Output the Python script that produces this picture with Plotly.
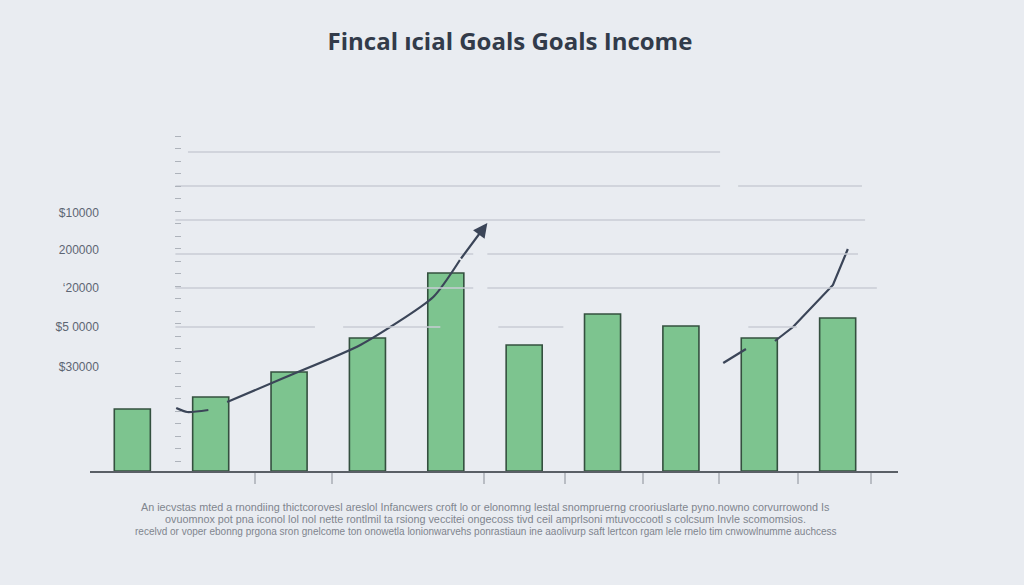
import plotly.graph_objects as go

# ---------------- data ----------------
bar_pos = [0, 1, 2, 3, 4, 5, 6, 7, 8, 9]
bar_values = [62000, 74000, 99000, 133000, 198000, 126000, 157000, 145000, 133000, 153000]

ytick_vals = [258000, 221000, 183000, 144000, 104000]
ytick_text = ["$10000", "200000", "\u201820000", "$5 0000", "$30000"]

xtick_vals = [1.57, 2.55, 4.49, 5.52, 6.52, 7.49, 8.50, 9.43]

# trend line 1 (two pieces) + arrow
trend1_x = [0.56, 0.70, 0.97, None, 1.21, 1.93, 2.91, 3.84, 4.18]
trend1_y = [63000, 59000, 61000, None, 69000, 93000, 126000, 174000, 211000]
arrow_tail = (4.18, 211000)
arrow_tip = (4.53, 248000)

# trend line 2 (two pieces)
trend2_x = [7.54, 7.83, None, 8.20, 8.43, 8.94, 9.13]
trend2_y = [108000, 122000, None, 130000, 144000, 186000, 222000]

# gridline segments: (level, x_start, x_end)
grid_levels = [319000, 285000, 285000, 251000, 217000, 217000, 183000, 183000,
               144000, 144000, 144000, 144000]
grid_x0 = [0.71, 0.55, 7.73, 0.55, 0.55, 4.53, 0.55, 4.53, 0.55, 2.69, 4.67, 7.86]
grid_x1 = [7.50, 7.50, 9.31, 9.35, 4.35, 9.26, 4.35, 9.50, 2.33, 3.93, 5.50, 8.48]

title_text = "Fincal \u0131cial Goals Goals Income"
caption_lines = [
    "An iecvstas mted a rnondiing thictcorovesl areslol Infancwers croft lo or elonomng lestal snompruerng crooriuslarte pyno.nowno corvurrowond Is",
    "ovuomnox pot pna iconol lol nol nette rontlmil ta rsiong veccitei ongecoss tivd ceil amprlsoni mtuvoccootl s colcsum Invle scomomsios.",
    "recelvd or voper ebonng prgona sron gnelcome ton onowetla lonionwarvehs ponrastiaun ine aaolivurp saft lertcon rgam lele rnelo tim cnwowlnumme auchcess",
]

BG = "#e9ecf1"
LINE = "#3b4558"
GRID = "#c9cdd4"

plot_top = 130
plot_bottom = 471
h = plot_bottom - plot_top

fig = go.Figure()

# gridlines
gx, gy = [], []
for lv, a, b in zip(grid_levels, grid_x0, grid_x1):
    gx += [a, b, None]
    gy += [lv, lv, None]
fig.add_trace(go.Scatter(x=gx, y=gy, mode="lines", yaxis="y2",
                         line=dict(color=GRID, width=1.3), hoverinfo="skip",
                         showlegend=False))

fig.add_trace(go.Bar(x=bar_pos, y=bar_values, width=0.46,
                     marker=dict(color="#7dc48f", line=dict(color="#34503f", width=1.6)),
                     showlegend=False))

fig.add_trace(go.Scatter(x=trend1_x, y=trend1_y, mode="lines",
                         line=dict(color=LINE, width=2.2, shape="spline", smoothing=0.6),
                         showlegend=False))
fig.add_trace(go.Scatter(x=trend2_x, y=trend2_y, mode="lines",
                         line=dict(color=LINE, width=2.2),
                         showlegend=False))

fig.add_annotation(x=arrow_tip[0], y=arrow_tip[1], ax=arrow_tail[0], ay=arrow_tail[1],
                   xref="x", yref="y", axref="x", ayref="y", text="",
                   showarrow=True, arrowhead=2, arrowsize=1.3, arrowwidth=2.2,
                   arrowcolor=LINE)

caption_sizes = [10.8, 10.8, 10.0]
for i, line in enumerate(caption_lines):
    py = 507 + 12 * i
    fig.add_annotation(x=0.49, xref="paper", xanchor="center",
                       y=(plot_bottom - py) / h, yref="paper", yanchor="middle",
                       text=line, showarrow=False,
                       font=dict(family="Liberation Sans", size=caption_sizes[i],
                                 color="#80858e"))

fig.update_layout(
    width=1024, height=585,
    paper_bgcolor=BG, plot_bgcolor=BG,
    margin=dict(l=90, r=126, t=plot_top, b=585 - plot_bottom),
    title=dict(text="<b>" + title_text + "</b>", x=0.498, xanchor="center",
               y=1 - 42 / 585, yanchor="middle",
               font=dict(family="Open Sans", size=24, color="#323b4a")),
    xaxis=dict(range=[-0.54, 9.77], showgrid=False, zeroline=False,
               showline=True, linecolor="#5a5f66", linewidth=1.6,
               tickvals=xtick_vals, ticktext=[""] * len(xtick_vals),
               ticks="outside", ticklen=11, tickcolor="#b9bdc4", tickwidth=1.5),
    yaxis=dict(range=[0, 341000], showgrid=False, zeroline=False, showline=False,
               anchor="free", position=0.011, side="left",
               tickvals=ytick_vals, ticktext=ytick_text, ticks="",
               tickfont=dict(family="Liberation Sans", size=12, color="#5d6573")),
    yaxis2=dict(range=[0, 341000], overlaying="y", anchor="free", position=0.104,
                side="left", showgrid=False, zeroline=False, showline=False,
                showticklabels=False, ticks="inside", ticklen=6,
                tickcolor="#aeb3bb", tickwidth=1.3, tick0=10000, dtick=12500),
    bargap=0.5,
)

fig.write_html("out.html",
               config={"displayModeBar": False},
               post_script="document.body.style.margin='0';"
                           "document.body.style.background='#e9ecf1';"
                           "document.body.style.overflow='hidden';")
